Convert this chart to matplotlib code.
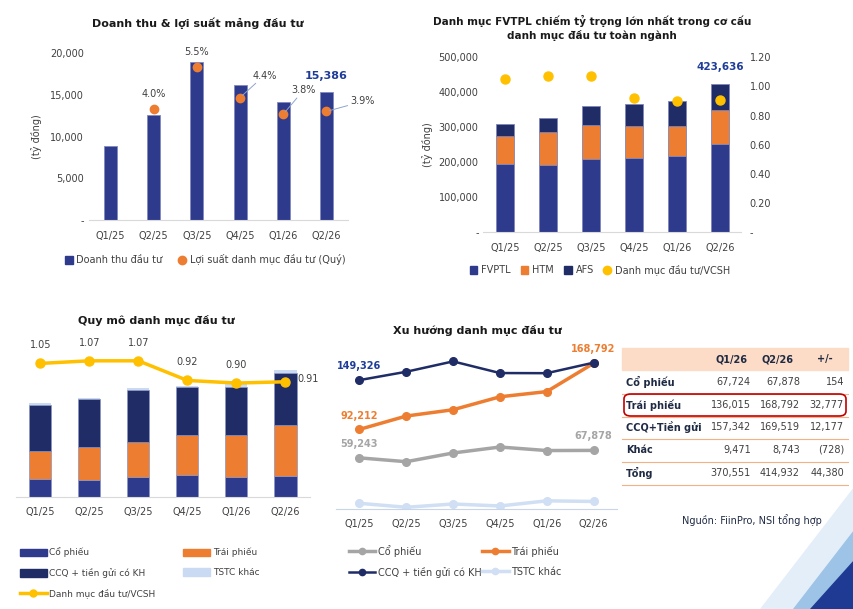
import numpy as np
import matplotlib
matplotlib.use('Agg')
import matplotlib.pyplot as plt
from matplotlib.ticker import FuncFormatter
from matplotlib.lines import Line2D
from matplotlib.patches import Patch, Polygon, FancyBboxPatch, Rectangle

quarters = ['Q1/25', 'Q2/25', 'Q3/25', 'Q4/25', 'Q1/26', 'Q2/26']

# chart 1: doanh thu & loi suat
doanh_thu = [8900, 12600, 18900, 16130, 14170, 15386]
loi_suat = [np.nan, 4.0, 5.5, 4.4, 3.8, 3.9]

# chart 2: co cau danh muc
fvtpl = [195000, 192000, 209000, 213000, 217000, 252000]
htm = [81000, 94000, 98000, 91000, 88000, 97000]
afs = [33000, 40000, 54000, 63000, 70000, 74636]
dm_vcsh = [1.05, 1.07, 1.07, 0.92, 0.90, 0.91]

# chart 3 & 4: quy mo / xu huong
co_phieu = [59243, 54800, 64900, 71800, 67724, 67878]
trai_phieu = [92212, 107700, 115000, 130000, 136015, 168792]
ccq_tien_gui = [149326, 159000, 171000, 157500, 157342, 169519]
tstc_khac = [6600, 2000, 5800, 3500, 9471, 8743]

# table
tbl_header = ['', 'Q1/26', 'Q2/26', '+/-']
tbl_rows = ['Cổ phiếu', 'Trái phiếu', 'CCQ+Tiền gửi', 'Khác', 'Tổng']
tbl_q1 = ['67,724', '136,015', '157,342', '9,471', '370,551']
tbl_q2 = ['67,878', '168,792', '169,519', '8,743', '414,932']
tbl_diff = ['154', '32,777', '12,177', '(728)', '44,380']

NAVY = '#2E3A8C'
DARK = '#1F2C66'
ORANGE = '#ED7D31'
GOLD = '#FFC000'
LIGHT = '#C9DAF2'
GRAY = '#A5A5A5'
TXT = '#404040'
BLUE_LBL = '#1F3C99'

plt.rcParams['font.family'] = ['DejaVu Sans']
W, H = 854, 609
fig = plt.figure(figsize=(W / 100, H / 100), dpi=100)
fig.patch.set_facecolor('white')


def px_axes(l, t, r, b):
    return fig.add_axes([l / W, 1 - b / H, (r - l) / W, (b - t) / H])


def fx(x):
    return x / W


def fy(y):
    return 1 - y / H


# background decoration bottom right
fig.patches.append(Polygon([(fx(854), fy(487)), (fx(854), fy(609)), (fx(760), fy(609))],
                           closed=True, transform=fig.transFigure, color='#E3EEF9', zorder=0))
fig.patches.append(Polygon([(fx(854), fy(530)), (fx(854), fy(609)), (fx(793), fy(609))],
                           closed=True, transform=fig.transFigure, color='#9DC3E6', zorder=0))
fig.patches.append(Polygon([(fx(854), fy(560)), (fx(854), fy(609)), (fx(810), fy(609))],
                           closed=True, transform=fig.transFigure, color='#1F3A93', zorder=0))


def style_axes(ax, spine_color='#D9D9D9'):
    ax.set_facecolor('none')
    for s in ['top', 'right', 'left']:
        ax.spines[s].set_visible(False)
    ax.spines['bottom'].set_color(spine_color)
    ax.tick_params(axis='both', length=0, labelsize=7, colors=TXT)
    ax.tick_params(axis='x', pad=8)


x = np.arange(len(quarters))
dash_fmt = FuncFormatter(lambda v, _: '-' if v == 0 else f'{v:,.0f}')

# ---------- chart 1 ----------
ax1 = px_axes(89, 53, 348, 220)
style_axes(ax1)
ax1.bar(x, doanh_thu, width=0.3, color=NAVY, edgecolor='#8088BE', linewidth=0.6)
ax1.set_xlim(-0.5, 5.5)
ax1.set_ylim(0, 20000)
ax1.set_yticks([0, 5000, 10000, 15000, 20000])
ax1.yaxis.set_major_formatter(dash_fmt)
ax1.set_xticks(x, quarters)
ax1.set_ylabel('(tỷ đồng)', fontsize=7, color=TXT, labelpad=6)
ax1.annotate(f'{doanh_thu[-1]:,}', (x[-1], doanh_thu[-1]), xytext=(0, 11), textcoords='offset pixels',
             ha='center', va='bottom', fontsize=8, fontweight='bold', color=BLUE_LBL)
ax1b = ax1.twinx()
ax1b.set_ylim(0, 6)
ax1b.axis('off')
ax1b.plot(x, loi_suat, 'o', color=ORANGE, markersize=6, linestyle='none')
offs = [None, (0, 15), (0, 15), (12, 22), (8, 24), (24, 10)]
for i, v in enumerate(loi_suat):
    if np.isnan(v):
        continue
    dx, dy = offs[i]
    if dx == 0:
        ax1b.annotate(f'{v:.1f}%', (x[i], v), xytext=(dx, dy), textcoords='offset pixels',
                      ha='center', va='center', fontsize=7, color=TXT)
    else:
        ax1b.annotate(f'{v:.1f}%', (x[i], v), xytext=(dx, dy), textcoords='offset pixels',
                      ha='left', va='center', fontsize=7, color=TXT,
                      arrowprops=dict(arrowstyle='-', color='#8FA4CC', lw=0.7, shrinkA=0, shrinkB=2))
ax1.legend(handles=[Line2D([], [], marker='s', color=NAVY, linestyle='none', markersize=6),
                    Line2D([], [], marker='o', color=ORANGE, linestyle='none', markersize=6)],
           labels=['Doanh thu đầu tư', 'Lợi suất danh mục đầu tư (Quý)'],
           loc='center', bbox_to_anchor=(fx(205), fy(260)), bbox_transform=fig.transFigure,
           ncol=2, frameon=False, fontsize=7, handlelength=0.8, handletextpad=0.4,
           columnspacing=1.6, labelcolor=TXT)
fig.text(fx(198), fy(23), 'Doanh thu & lợi suất mảng đầu tư', ha='center', va='center',
         fontsize=8, fontweight='bold', color='#1A1A1A')

# ---------- chart 2 ----------
ax2 = px_axes(483.5, 57.3, 741.5, 232.3)
style_axes(ax2)
bar_edge = dict(edgecolor='#7F86B8', linewidth=0.6)
ax2.bar(x, fvtpl, width=0.42, color=NAVY, **bar_edge)
ax2.bar(x, htm, width=0.42, bottom=fvtpl, color=ORANGE, **bar_edge)
ax2.bar(x, afs, width=0.42, bottom=np.add(fvtpl, htm), color=DARK, **bar_edge)
total2 = np.add(np.add(fvtpl, htm), afs)
ax2.annotate(f'{total2[-1]:,.0f}', (x[-1], total2[-1]), xytext=(0, 12), textcoords='offset pixels',
             ha='center', va='bottom', fontsize=7.5, fontweight='bold', color=BLUE_LBL)
ax2.set_xlim(-0.5, 5.5)
ax2.set_ylim(0, 500000)
ax2.set_yticks(np.arange(0, 500001, 100000))
ax2.yaxis.set_major_formatter(dash_fmt)
ax2.set_xticks(x, quarters)
ax2.set_ylabel('(tỷ đồng)', fontsize=7, color=TXT, labelpad=4)
ax2b = ax2.twinx()
ax2b.set_ylim(0, 1.2)
for s in ax2b.spines.values():
    s.set_visible(False)
ax2b.set_yticks(np.arange(0, 1.21, 0.2))
ax2b.yaxis.set_major_formatter(FuncFormatter(lambda v, _: '-' if abs(v) < 1e-9 else f'{v:.2f}'))
ax2b.tick_params(length=0, labelsize=7, colors=TXT, pad=6)
ax2b.plot(x, dm_vcsh, 'o', color=GOLD, markersize=6.5, linestyle='none')
ax2.legend(handles=[Patch(color=NAVY), Patch(color=ORANGE), Patch(color=DARK),
                    Line2D([], [], marker='o', color=GOLD, linestyle='none', markersize=6)],
           labels=['FVPTL', 'HTM', 'AFS', 'Danh mục đầu tư/VCSH'],
           loc='center', bbox_to_anchor=(fx(600), fy(270)), bbox_transform=fig.transFigure,
           ncol=4, frameon=False, fontsize=7, handlelength=0.8, handleheight=0.8,
           handletextpad=0.4, columnspacing=1.0, labelcolor=TXT)
fig.text(fx(592), fy(28), 'Danh mục FVTPL chiếm tỷ trọng lớn nhất trong cơ cấu\ndanh mục đầu tư toàn ngành',
         ha='center', va='center', fontsize=7.5, fontweight='bold', color='#1A1A1A', linespacing=1.3)

# ---------- chart 3 ----------
ax3 = px_axes(15.8, 335, 310, 497.3)
style_axes(ax3)
b1 = np.array(co_phieu)
b2 = b1 + np.array(trai_phieu)
b3 = b2 + np.array(ccq_tien_gui)
edge3 = dict(edgecolor='#8A94C4', linewidth=0.5)
ax3.bar(x, co_phieu, width=0.45, color=NAVY, **edge3)
ax3.bar(x, trai_phieu, width=0.45, bottom=b1, color=ORANGE, **edge3)
ax3.bar(x, ccq_tien_gui, width=0.45, bottom=b2, color=DARK, **edge3)
ax3.bar(x, tstc_khac, width=0.45, bottom=b3, color=LIGHT, linewidth=0)
ax3.set_xlim(-0.5, 5.5)
ax3.set_ylim(0, 529000)
ax3.set_yticks([])
ax3.set_xticks(x, quarters)
ax3.tick_params(axis='x', pad=7)
ax3b = ax3.twinx()
ax3b.set_ylim(0.028, 1.267)
ax3b.axis('off')
ax3b.plot(x, dm_vcsh, '-o', color=GOLD, lw=2.5, markersize=6.5)
for i, v in enumerate(dm_vcsh):
    if i < len(dm_vcsh) - 1:
        ax3b.annotate(f'{v:.2f}', (x[i], v), xytext=(0, 13), textcoords='offset pixels',
                      ha='center', va='bottom', fontsize=7, color=TXT)
    else:
        ax3b.annotate(f'{v:.2f}', (x[i], v), xytext=(12, 3), textcoords='offset pixels',
                      ha='left', va='center', fontsize=7, color=TXT)
ax3.legend(handles=[Patch(color=NAVY), Patch(color=DARK),
                    Line2D([], [], marker='o', color=GOLD, lw=2.5, markersize=5),
                    Patch(color=ORANGE), Patch(color=LIGHT)],
           labels=['Cổ phiếu', 'CCQ + tiền gửi có KH', 'Danh mục đầu tư/VCSH', 'Trái phiếu', 'TSTC khác'],
           loc='upper left', bbox_to_anchor=(fx(16), fy(544)), bbox_transform=fig.transFigure,
           ncol=2, frameon=False, fontsize=6.5, handlelength=3.0, handleheight=0.9,
           handletextpad=0.3, columnspacing=3.05, labelspacing=1.15, labelcolor=TXT, borderaxespad=0)
fig.text(fx(156), fy(321), 'Quy mô danh mục đầu tư', ha='center', va='center',
         fontsize=8, fontweight='bold', color='#1A1A1A')

# ---------- chart 4 ----------
ax4 = px_axes(336, 345, 617, 509)
style_axes(ax4, spine_color='#C9D6EA')
ax4.plot(x, co_phieu, '-o', color=GRAY, lw=2.5, markersize=5.5)
ax4.plot(x, trai_phieu, '-o', color=ORANGE, lw=2.5, markersize=5.5)
ax4.plot(x, ccq_tien_gui, '-o', color=DARK, lw=1.8, markersize=5.5)
ax4.plot(x, tstc_khac, '-o', color='#D0DFF4', lw=2.5, markersize=5.5)
ax4.set_xlim(-0.5, 5.5)
ax4.set_ylim(0, 190000)
ax4.set_yticks([])
ax4.set_xticks(x, quarters)
ax4.tick_params(axis='x', pad=7)
lbl = dict(textcoords='offset pixels', ha='center', va='center', fontsize=7, fontweight='bold')
ax4.annotate(f'{ccq_tien_gui[0]:,}', (x[0], ccq_tien_gui[0]), xytext=(0, 14), color=BLUE_LBL, **lbl)
ax4.annotate(f'{trai_phieu[0]:,}', (x[0], trai_phieu[0]), xytext=(0, 13), color=ORANGE, **lbl)
ax4.annotate(f'{co_phieu[0]:,}', (x[0], co_phieu[0]), xytext=(0, 14), color=GRAY, **lbl)
ax4.annotate(f'{trai_phieu[-1]:,}', (x[-1], trai_phieu[-1]), xytext=(0, 14), color=ORANGE, **lbl)
ax4.annotate(f'{co_phieu[-1]:,}', (x[-1], co_phieu[-1]), xytext=(0, 14), color=GRAY, **lbl)
ax4.legend(handles=[Line2D([], [], marker='o', color=GRAY, lw=2.5, markersize=4.5),
                    Line2D([], [], marker='o', color=DARK, lw=1.8, markersize=4.5),
                    Line2D([], [], marker='o', color=ORANGE, lw=2.5, markersize=4.5),
                    Line2D([], [], marker='o', color='#D0DFF4', lw=2.5, markersize=4.5)],
           labels=['Cổ phiếu', 'CCQ + tiền gửi có KH', 'Trái phiếu', 'TSTC khác'],
           loc='upper left', bbox_to_anchor=(fx(345), fy(541)), bbox_transform=fig.transFigure,
           ncol=2, frameon=False, fontsize=7, handlelength=2.7, handletextpad=0.25,
           columnspacing=0.1, labelspacing=1.0, labelcolor=TXT, borderaxespad=0)
fig.text(fx(477), fy(331), 'Xu hướng danh mục đầu tư', ha='center', va='center',
         fontsize=8, fontweight='bold', color='#1A1A1A')

# ---------- table ----------
tl, tr = 622, 848
fig.patches.append(Rectangle((fx(tl), fy(370)), fx(tr) - fx(tl), fy(348) - fy(370),
                             transform=fig.transFigure, color='#FCDCC6', zorder=1))
col_right = [751, 800, 844]
fig.text(fx(732), fy(359), tbl_header[1], ha='center', va='center', fontsize=7, fontweight='bold', color='#1F2A44')
fig.text(fx(778), fy(359), tbl_header[2], ha='center', va='center', fontsize=7, fontweight='bold', color='#1F2A44')
fig.text(fx(825), fy(359), tbl_header[3], ha='center', va='center', fontsize=7, fontweight='bold', color='#1F2A44')
row_y = [382, 405, 427, 450, 473]
for k, name in enumerate(tbl_rows):
    y = row_y[k]
    fig.text(fx(626), fy(y), name, ha='left', va='center', fontsize=7, fontweight='bold', color='#1F2A44')
    for c, vals in enumerate([tbl_q1, tbl_q2, tbl_diff]):
        fig.text(fx(col_right[c]), fy(y), vals[k], ha='right', va='center', fontsize=7, color=TXT)
    fig.add_artist(Line2D([fx(tl), fx(tr)], [fy(y + 11.5), fy(y + 11.5)], color='#F4B183', lw=0.8))
fig.patches.append(FancyBboxPatch((fx(tl + 2), fy(416)), fx(tr - 4) - fx(tl), fy(394) - fy(416),
                                  boxstyle='round,pad=0,rounding_size=0.008', transform=fig.transFigure,
                                  facecolor='none', edgecolor='#C00000', lw=1.2, zorder=3))
fig.text(fx(752), fy(520), 'Nguồn: FiinPro, NSI tổng hợp', ha='center', va='center', fontsize=7, color='#1F2A44')

fig.savefig('out.png', dpi=100, facecolor='white')
